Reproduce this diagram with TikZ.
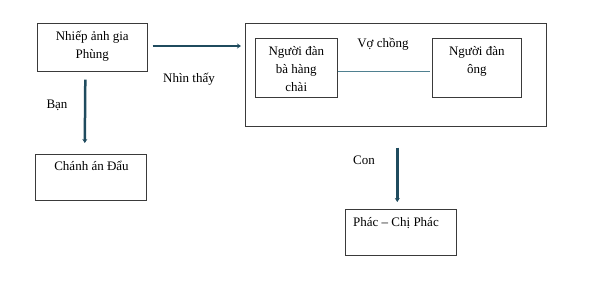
\documentclass[tikz,border=0pt]{standalone}
\usepackage{fontspec}
\setmainfont{Liberation Serif}
\usetikzlibrary{arrows.meta,positioning}
\definecolor{ArrowBlue}{HTML}{1F4B5E}
\definecolor{LinkTeal}{HTML}{4F8090}
\definecolor{EdgeGray}{HTML}{3A3A3A}
\tikzset{
  box/.style={rectangle,draw=EdgeGray,line width=0.6pt,
              inner sep=0pt,anchor=north west},
  boxtext/.style={align=center,inner sep=0pt,
                  font=\fontsize{13}{18}\selectfont},
  lbl/.style={inner sep=0pt,font=\fontsize{13}{18}\selectfont},
  arr/.style={-{Stealth[length=4pt,width=5pt]},ArrowBlue,line width=2.5pt},
}
\begin{document}
\begin{tikzpicture}[x=1pt,y=-1pt]
  \useasboundingbox (0,0) rectangle (594,288);
  % left column
  \node[box,minimum width=110pt,minimum height=48pt] (phung) at (37,23) {};
  \node[boxtext,below=8pt of phung.north] (phungtxt)
    {Nhiếp ảnh gia\\Phùng};
  \node[box,minimum width=111pt,minimum height=46pt] (dau) at (35,154) {};
  \node[lbl,anchor=base] (dautxt) at (91.5,171) {Chánh án Đẩu};
  % couple
  \node[box,minimum width=301pt,minimum height=103pt] (couple) at (245,23) {};
  \node[box,minimum width=82pt,minimum height=59pt] (wife) at (255,38) {};
  \node[boxtext,below=8pt of wife.north] (wifetxt)
    {Người đàn\\bà hàng\\chài};
  \node[box,minimum width=89pt,minimum height=59pt] (husband) at (432,38) {};
  \node[boxtext,below=8pt of husband.north] (husbandtxt)
    {Người đàn\\ông};
  \node[lbl,anchor=base] (spouse) at (383,48) {Vợ chồng};
  \draw[LinkTeal,line width=0.8pt]
    ([yshift=-3.5pt]wife.east) -- ([yshift=-3.5pt,xshift=-2pt]husband.west);
  % child
  \node[box,minimum width=111pt,minimum height=46pt] (phac) at (345,209) {};
  \node[lbl,anchor=base west] (phactxt) at (353,227) {Phác -- Chị Phác};
  % arrows
  \draw[arr] ([xshift=-7pt,yshift=-8pt]phung.south) -- ([xshift=-6pt,yshift=11pt]dau.north);
  \node[lbl,anchor=base] (friend) at (57,109) {Bạn};
  \draw[arr] ([xshift=5pt]phung.east|-0,46) -- ([xshift=-4pt]couple.west|-0,46);
  \node[lbl,anchor=base] (seen) at (189,82.5) {Nhìn thấy};
  \draw[arr] ([xshift=1.5pt,yshift=-21pt]couple.south) -- ([xshift=-3.5pt,yshift=7pt]phac.north);
  \node[lbl,anchor=base] (child) at (364,165) {Con};
\end{tikzpicture}
\end{document}
